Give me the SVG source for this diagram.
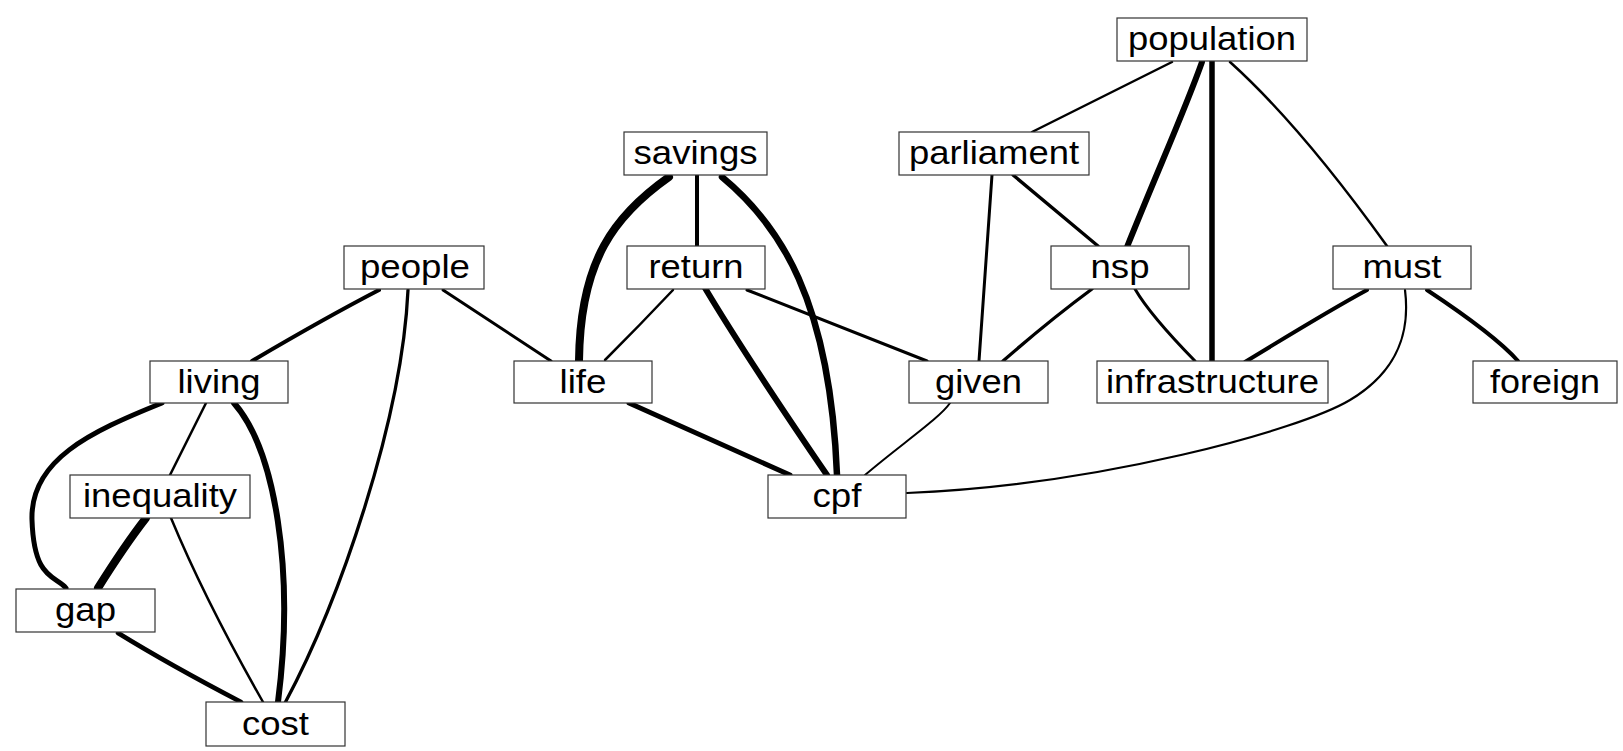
<svg xmlns="http://www.w3.org/2000/svg" width="1623" height="751" viewBox="0 0 1623 751">
<style>
.bg{fill:#fff}
.node rect{fill:#fff;stroke:#333;stroke-width:1.2}
.node text{font-family:"Liberation Sans",Arial,sans-serif;font-size:33px;fill:#000;text-anchor:middle}
.edges path{fill:none;stroke:#000;stroke-linecap:round;stroke-linejoin:round}
</style>
<rect class="bg" x="0" y="0" width="1623" height="751"/>
<g id="edges" class="edges">
<path d="M379,290 Q325,318 252,361" stroke-width="4"/>
<path d="M408,290 C402,420 340,600 285,703" stroke-width="3.3"/>
<path d="M443,290 L551,361" stroke-width="3"/>
<path d="M162,403 C90,432 30,460 32,520 S55,575 66,588" stroke-width="5"/>
<path d="M206,403 L170,475" stroke-width="2.5"/>
<path d="M234,403 C275,450 295,570 278,702" stroke-width="6"/>
<path d="M146,518 Q125,545 98,588" stroke-width="8"/>
<path d="M171,518 Q205,600 263,702" stroke-width="2.5"/>
<path d="M118,633 Q170,665 241,702" stroke-width="4.7"/>
<path d="M669,177 C615,215 580,260 579,361" stroke-width="8"/>
<path d="M697,175 L697,247" stroke-width="4"/>
<path d="M722,177 C780,225 830,300 837,475" stroke-width="6.5"/>
<path d="M673,290 Q640,325 605,360" stroke-width="2.5"/>
<path d="M705,288 Q745,355 827,475" stroke-width="6"/>
<path d="M747,290 L927,361" stroke-width="3"/>
<path d="M629,403 L790,475" stroke-width="5"/>
<path d="M950,403 C940,418 900,445 865,475" stroke-width="2"/>
<path d="M1405,290 C1410,330 1400,370 1350,400 S1100,485 907,493" stroke-width="2.2"/>
<path d="M1172,62 L1032,132" stroke-width="2.5"/>
<path d="M1202,62 C1185,110 1160,165 1127,247" stroke-width="6"/>
<path d="M1212,61 L1212,361" stroke-width="5.5"/>
<path d="M1230,62 Q1300,125 1387,246" stroke-width="2.5"/>
<path d="M992,175 Q985,270 979,361" stroke-width="3"/>
<path d="M1013,175 L1098,246" stroke-width="3.3"/>
<path d="M1092,289 Q1050,320 1003,361" stroke-width="3.3"/>
<path d="M1135,289 Q1150,315 1195,361" stroke-width="3"/>
<path d="M1367,290 Q1330,310 1245,362" stroke-width="4"/>
<path d="M1427,290 Q1495,335 1518,361" stroke-width="4"/>
</g>
<g id="node-population" class="node"><rect x="1117" y="18" width="190" height="43"/><text x="1212" y="50" textLength="168" lengthAdjust="spacingAndGlyphs">population</text></g>
<g id="node-parliament" class="node"><rect x="899" y="132" width="190" height="43"/><text x="994" y="164" textLength="170" lengthAdjust="spacingAndGlyphs">parliament</text></g>
<g id="node-savings" class="node"><rect x="624" y="132" width="143" height="43"/><text x="695.5" y="164" textLength="124" lengthAdjust="spacingAndGlyphs">savings</text></g>
<g id="node-people" class="node"><rect x="344" y="246" width="140" height="43"/><text x="415" y="278" textLength="110" lengthAdjust="spacingAndGlyphs">people</text></g>
<g id="node-return" class="node"><rect x="627" y="246" width="138" height="43"/><text x="696" y="278" textLength="95" lengthAdjust="spacingAndGlyphs">return</text></g>
<g id="node-nsp" class="node"><rect x="1051" y="246" width="138" height="43"/><text x="1120" y="278" textLength="59" lengthAdjust="spacingAndGlyphs">nsp</text></g>
<g id="node-must" class="node"><rect x="1333" y="246" width="138" height="43"/><text x="1402" y="278" textLength="79" lengthAdjust="spacingAndGlyphs">must</text></g>
<g id="node-living" class="node"><rect x="150" y="361" width="138" height="42"/><text x="219" y="393" textLength="83" lengthAdjust="spacingAndGlyphs">living</text></g>
<g id="node-life" class="node"><rect x="514" y="361" width="138" height="42"/><text x="583" y="393" textLength="47" lengthAdjust="spacingAndGlyphs">life</text></g>
<g id="node-given" class="node"><rect x="909" y="361" width="139" height="42"/><text x="978.5" y="393" textLength="87" lengthAdjust="spacingAndGlyphs">given</text></g>
<g id="node-infrastructure" class="node"><rect x="1097" y="361" width="231" height="42"/><text x="1212.5" y="393" textLength="213" lengthAdjust="spacingAndGlyphs">infrastructure</text></g>
<g id="node-foreign" class="node"><rect x="1473" y="361" width="144" height="42"/><text x="1545" y="393" textLength="110" lengthAdjust="spacingAndGlyphs">foreign</text></g>
<g id="node-inequality" class="node"><rect x="70" y="475" width="180" height="43"/><text x="160" y="507" textLength="154" lengthAdjust="spacingAndGlyphs">inequality</text></g>
<g id="node-cpf" class="node"><rect x="768" y="475" width="138" height="43"/><text x="837" y="507" textLength="49" lengthAdjust="spacingAndGlyphs">cpf</text></g>
<g id="node-gap" class="node"><rect x="16" y="589" width="139" height="43"/><text x="85.5" y="621" textLength="61" lengthAdjust="spacingAndGlyphs">gap</text></g>
<g id="node-cost" class="node"><rect x="206" y="702" width="139" height="44"/><text x="275.5" y="735" textLength="67" lengthAdjust="spacingAndGlyphs">cost</text></g>
</svg>
